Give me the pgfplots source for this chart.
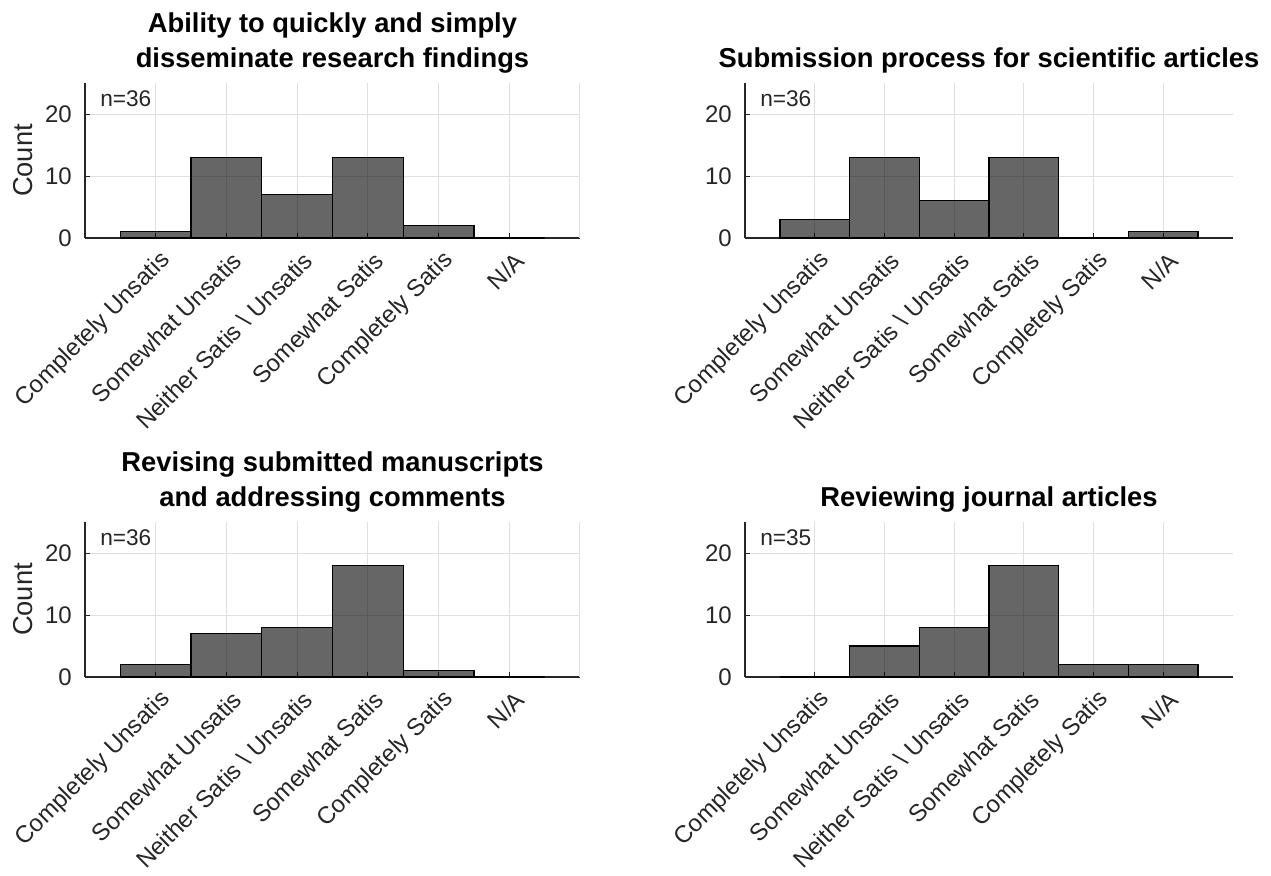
\documentclass[border=0pt]{standalone}
\usepackage{fontspec}
\setmainfont{Liberation Sans}
\usepackage{pgfplots}
\pgfplotsset{compat=1.18}

\definecolor{axgray}{RGB}{38,38,38}
\definecolor{gridgray}{RGB}{223,223,223}

\pgfplotsset{
  likert/.style={
    scale only axis, width=371.25pt, height=116.25pt,
    xmin=0, xmax=7, ymin=0, ymax=25,
    axis x line*=bottom, axis y line*=left,
    axis line style={axgray, line width=0.9pt, -},
    xtick={1,...,6}, ytick={0,10,20},
    xticklabels={Completely Unsatis, Somewhat Unsatis, Neither Satis \textbackslash{} Unsatis, Somewhat Satis, Completely Satis, N/A},
    tick align=inside, major tick length=4pt,
    tick style={axgray, line width=0.75pt},
    xmajorgrids, ymajorgrids,
    major grid style={gridgray, line width=0.75pt},
    ticklabel style={font=\fontsize{18}{20}\selectfont, text=axgray},
    /pgf/number format/assume math mode=true,
    xticklabel style={xshift=8.25pt, rotate=45, anchor=east, inner sep=0pt},
    xticklabel shift=14pt,
    yticklabel style={inner sep=0pt},
    yticklabel shift=9.75pt,
    title style={font=\fontsize{20.5}{26.25}\selectfont\bfseries, align=center,
      at={(axis description cs:0.5,1)}, anchor=south, inner sep=0pt, yshift=1pt},
    ylabel style={font=\fontsize{20.5}{24}\selectfont, text=axgray,
      at={(axis description cs:-0.105,0.5)}, anchor=south, inner sep=0pt},
    clip=false,
  },
  leftcol/.style={
    extra x ticks={7}, extra x tick labels={},
    extra x tick style={grid=major, major tick length=0pt},
  },
  hist/.style={ybar, bar width=1, fill=black, fill opacity=0.6,
    draw=black, line width=1pt},
}
\tikzset{
  nlabel/.style={anchor=north west, inner sep=0pt, text=axgray,
    font=\fontsize{17}{20}\selectfont, xshift=11.25pt, yshift=-5.25pt},
}

\begin{document}
\begin{tikzpicture}

% Ability to disseminate findings
\begin{axis}[likert, leftcol, at={(63.75pt,-178.5pt)}, anchor=south west,
  title={Ability to quickly and simply\\disseminate research findings},
  ylabel={Count}]
\addplot[hist] coordinates {(1,1) (2,13) (3,7) (4,13) (5,2) (6,0)};
\node[nlabel] at (rel axis cs:0,1) {n=36};
\end{axis}

% Submission process
\begin{axis}[likert, width=366pt, at={(558.75pt,-178.5pt)}, anchor=south west,
  title={Submission process for scientific articles}]
\addplot[hist] coordinates {(1,3) (2,13) (3,6) (4,13) (5,0) (6,1)};
\node[nlabel] at (rel axis cs:0,1) {n=36};
\end{axis}

% Revising manuscripts
\begin{axis}[likert, leftcol, at={(63.75pt,-507.75pt)}, anchor=south west,
  title={Revising submitted manuscripts\\and addressing comments},
  ylabel={Count}]
\addplot[hist] coordinates {(1,2) (2,7) (3,8) (4,18) (5,1) (6,0)};
\node[nlabel] at (rel axis cs:0,1) {n=36};
\end{axis}

% Reviewing articles
\begin{axis}[likert, width=366pt, at={(558.75pt,-507.75pt)}, anchor=south west,
  title={Reviewing journal articles}]
\addplot[hist] coordinates {(1,0) (2,5) (3,8) (4,18) (5,2) (6,2)};
\node[nlabel] at (rel axis cs:0,1) {n=35};
\end{axis}

\pgfresetboundingbox
\path (0pt,0pt) rectangle (953.25pt,-656.25pt);
\end{tikzpicture}
\end{document}
